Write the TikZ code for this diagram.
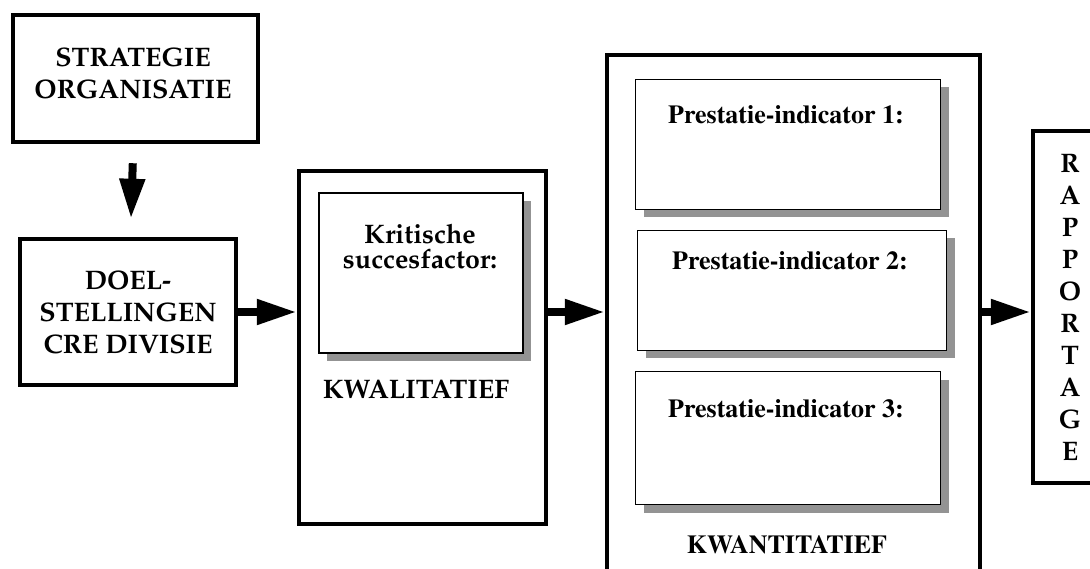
\documentclass[tikz,border=0pt]{standalone}
\usepackage[T1]{fontenc}
\usetikzlibrary{arrows.meta,shadows}

\definecolor{shadowgray}{HTML}{939393}
\newcommand{\palfont}{\fontfamily{ppl}\fontseries{b}\fontsize{26.8}{32}\selectfont}
\newcommand{\timfont}{\fontfamily{ptm}\fontseries{b}\fontsize{26}{32}\selectfont}

\begin{document}
\begin{tikzpicture}[x=1pt,y=-1pt,
    thickbox/.style={draw, line width=4.5pt, fill=white, inner sep=0pt},
    shadowbox/.style={draw, line width=1.5pt, fill=white, inner sep=0pt,
        drop shadow={shadow xshift=8pt, shadow yshift=-8pt, fill=shadowgray, opacity=1}},
    arr/.style={line width=8pt, -{Triangle[length=40pt,width=24pt]}},
    pal/.style={font=\palfont, align=center, inner sep=0pt},
    tim/.style={font=\timfont, inner sep=0pt}]

    \useasboundingbox (0,0) rectangle (1090,569);

    % Strategy and goals
    \node[thickbox, minimum width=245pt, minimum height=127pt] (strat) at (135.5,78.5) {};
    \node[pal] (stratt) at (133,73) {STRATEGIE\\ORGANISATIE};
    \node[thickbox, pal, minimum width=216pt, minimum height=146pt] (doel) at (128,312)
        {DOEL-\\STELLINGEN\\CRE DIVISIE};

    % Qualitative part
    \node[thickbox, minimum width=247pt, minimum height=353pt] (kwal) at (422.5,347.5) {};
    \node[shadowbox, line width=2pt, minimum width=204pt, minimum height=160pt] (krit) at (420.5,273.5) {};
    \node[pal, font=\fontfamily{ppl}\fontseries{b}\fontsize{26.8}{25}\selectfont] (kritt) at (420,246) {Kritische\\succesfactor:};
    \node[pal, anchor=base] (kwalt) at (416,399) {KWALITATIEF};

    % Quantitative part
    \node[thickbox, minimum width=373pt, minimum height=555pt] (kwan) at (793.5,332.5) {};
    \foreach \i/\x/\y/\w/\h/\tx/\ty in {1/788/144.5/305/130/786/124,
                                       2/792/290.5/309/120/790/270,
                                       3/788/438/305/133/786/417}
    {
        \node[shadowbox, line width=1.3pt, minimum width=\w pt, minimum height=\h pt] (pi\i) at (\x,\y) {};
        \node[tim, anchor=base] (pit\i) at (\tx,\ty) {Prestatie-indicator \i:};
    }
    \node[tim, anchor=base] (kwant) at (787,553) {KWANTITATIEF};

    % Reporting
    \node[thickbox, minimum width=77pt, minimum height=352pt] (rapp) at (1071.5,307) {};
    \foreach \l [count=\i from 0] in {R,A,P,P,O,R,T,A,G,E}
        \node[pal, anchor=base] (rl\i) at (1070,173+31.9*\i) {\l};

    % Arrows
    \draw[arr, shorten <=19pt, shorten >=18pt] (strat) -- (doel);
    \draw[arr] (doel.east) -- (doel.east -| kwal.west);
    \draw[arr] (kwal.east |- doel.east) -- (doel.east -| kwan.west);
    \draw[arr] (kwan.east |- doel.east) -- (doel.east -| rapp.west);

\end{tikzpicture}
\end{document}
